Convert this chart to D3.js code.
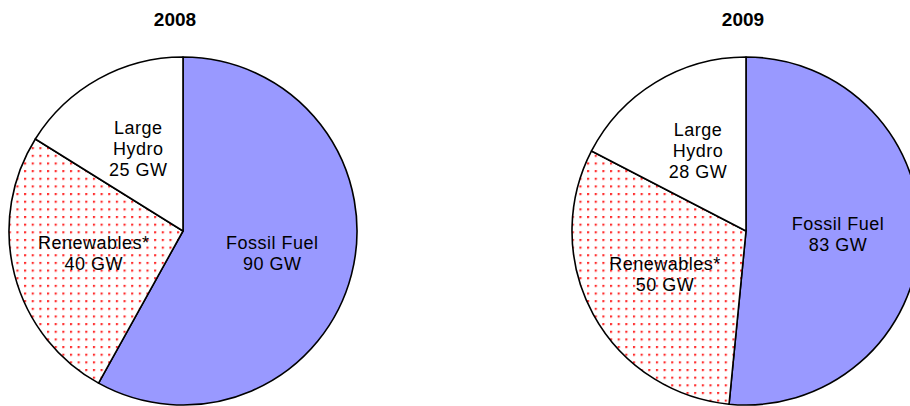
<!DOCTYPE html>
<html>
<head>
<meta charset="utf-8">
<script src="https://cdn.jsdelivr.net/npm/d3@7"></script>
<style>
  body { margin: 0; background: #fff; }
  svg { display: block; font-family: "Liberation Sans", Arial, sans-serif; }
</style>
</head>
<body>
<svg></svg>
<script>
// data
const years = ["2008", "2009"];
const sources = ["Fossil Fuel", "Renewables*", "Large Hydro"];
const capacity2008 = [90, 40, 25];
const capacity2009 = [83, 50, 28];
const capacities = [capacity2008, capacity2009];

const width = 910;
const height = 406;
const radius = 174;
const centers = [[183, 231], [746, 231]];
const titleX = [175, 743];

const svg = d3.select('svg')
    .attr('width', width)
    .attr('height', height);

// red dot fill for the renewables slice
const defs = svg.append('defs');
const pat = defs.append('pattern')
    .attr('id', 'dots')
    .attr('patternUnits', 'userSpaceOnUse')
    .attr('x', 1.7)
    .attr('y', 0.3)
    .attr('width', 7.65)
    .attr('height', 7.65);
pat.append('rect').attr('width', 7.65).attr('height', 7.65).attr('fill', '#fff');
pat.append('circle').attr('cx', 0.9).attr('cy', 0.9).attr('r', 1.6).attr('fill', '#ff9090');
pat.append('circle').attr('cx', 0.9).attr('cy', 0.9).attr('r', 1).attr('fill', '#ff1a1a');

const fills = {
    "Fossil Fuel": "#9999ff",
    "Renewables*": "url(#dots)",
    "Large Hydro": "#ffffff"
};

const pie = d3.pie().sort(null).startAngle(0).endAngle(2 * Math.PI);
const arc = d3.arc().innerRadius(0).outerRadius(radius);
const labelArc = d3.arc().innerRadius(radius * 0.53).outerRadius(radius * 0.53);

years.forEach((year, i) => {
    const g = svg.append('g')
        .attr('transform', `translate(${centers[i][0]},${centers[i][1]})`);

    const slices = pie(capacities[i]);

    g.selectAll('path').data(slices).enter().append('path')
        .attr('d', arc)
        .attr('fill', (d, j) => fills[sources[j]])
        .attr('stroke', '#000')
        .attr('stroke-width', 1.6)
        .attr('stroke-linejoin', 'round');

    g.selectAll('.lbl').data(slices).enter().append('text')
        .attr('class', 'lbl')
        .attr('text-anchor', 'middle')
        .attr('font-size', 18)
        .attr('letter-spacing', 0.5)
        .attr('fill', '#000')
        .each(function(d, j) {
            const [cx, cy] = labelArc.centroid(d);
            const name = sources[j];
            const lines = (name === "Large Hydro" ? ["Large", "Hydro"] : [name])
                .concat([d.data + " GW"]);
            const lh = 21;
            const y0 = cy - (lines.length - 1) * lh / 2 + 5;
            d3.select(this).selectAll('tspan').data(lines).enter().append('tspan')
                .attr('x', cx)
                .attr('y', (t, k) => y0 + k * lh)
                .text(t => t);
        });

    svg.append('text')
        .attr('x', titleX[i])
        .attr('y', 26)
        .attr('text-anchor', 'middle')
        .attr('font-size', 19)
        .attr('font-weight', 'bold')
        .text(year);
});
</script>
</body>
</html>
